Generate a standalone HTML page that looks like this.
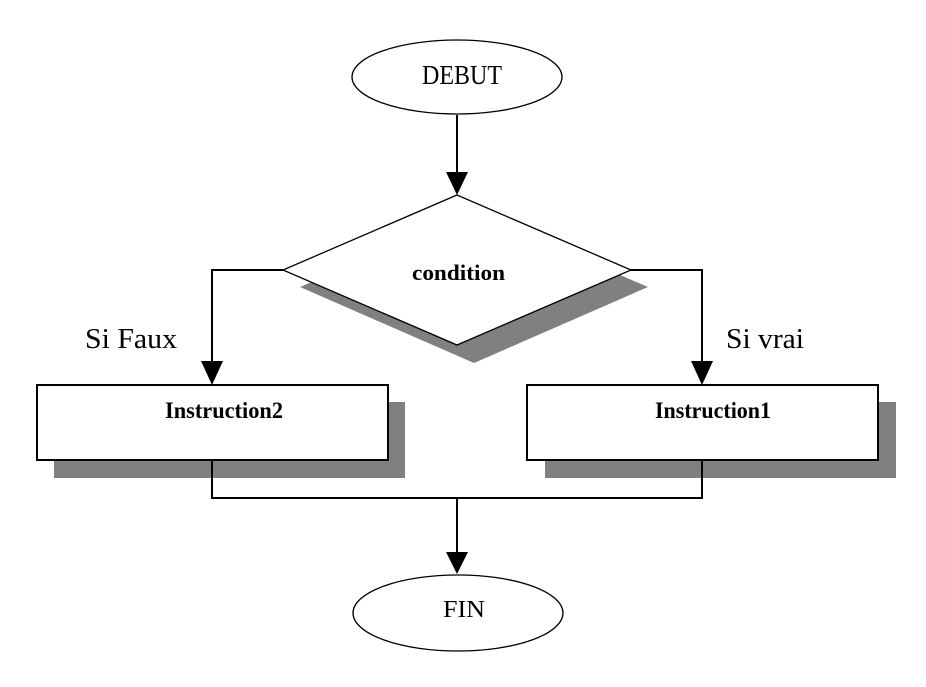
<!DOCTYPE html>
<html><head><style>html,body{margin:0;padding:0;background:#fff}</style></head>
<body>
<svg width="926" height="682" viewBox="0 0 926 682" xmlns="http://www.w3.org/2000/svg" font-family="Liberation Serif, serif">
<rect width="926" height="682" fill="#fff"/>
<ellipse cx="457" cy="77" rx="105" ry="37" fill="#fff" stroke="#000" stroke-width="1.3"/>
<text x="422" y="84" font-size="27" textLength="80" lengthAdjust="spacingAndGlyphs">DEBUT</text>
<line x1="457" y1="115" x2="457" y2="175" stroke="#000" stroke-width="2"/>
<polygon points="446,172 468,172 457,195" fill="#000"/>
<polygon points="474,212 648,287 474,363 300,287" fill="#808080"/>
<polygon points="457,195 631,270 457,345 283,270" fill="#fff" stroke="#000" stroke-width="1.3"/>
<text x="412" y="280" font-size="22" font-weight="bold" textLength="93" lengthAdjust="spacingAndGlyphs">condition</text>
<polyline points="283,270 212,270 212,365" fill="none" stroke="#000" stroke-width="2"/>
<polygon points="201,361 223,361 212,385" fill="#000"/>
<polyline points="631,270 702,270 702,365" fill="none" stroke="#000" stroke-width="2"/>
<polygon points="691,361 713,361 702,385" fill="#000"/>
<text x="85" y="348" font-size="28" textLength="92" lengthAdjust="spacingAndGlyphs">Si Faux</text>
<text x="726" y="348" font-size="28" textLength="78" lengthAdjust="spacingAndGlyphs">Si vrai</text>
<rect x="54" y="402" width="351" height="76" fill="#808080"/>
<rect x="37" y="385" width="351" height="75" fill="#fff" stroke="#000" stroke-width="2"/>
<text x="165" y="418" font-size="23" font-weight="bold" textLength="118" lengthAdjust="spacingAndGlyphs">Instruction2</text>
<rect x="545" y="402" width="351" height="76" fill="#808080"/>
<rect x="527" y="385" width="351" height="75" fill="#fff" stroke="#000" stroke-width="2"/>
<text x="655" y="418" font-size="23" font-weight="bold" textLength="116" lengthAdjust="spacingAndGlyphs">Instruction1</text>
<polyline points="212,460 212,498 702,498 702,460" fill="none" stroke="#000" stroke-width="2"/>
<line x1="457" y1="498" x2="457" y2="555" stroke="#000" stroke-width="2"/>
<polygon points="446,552 468,552 457,574" fill="#000"/>
<ellipse cx="458" cy="613" rx="105" ry="38" fill="#fff" stroke="#000" stroke-width="1.3"/>
<text x="443" y="617" font-size="24" textLength="42" lengthAdjust="spacingAndGlyphs">FIN</text>
</svg>
</body></html>
